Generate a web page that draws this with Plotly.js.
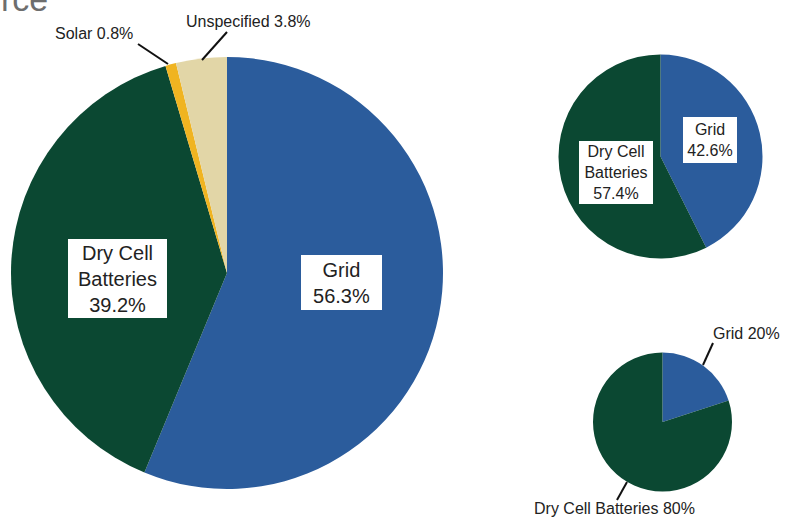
<!DOCTYPE html>
<html>
<head>
<meta charset="utf-8">
<script src="https://cdn.plot.ly/plotly-3.0.1.min.js"></script>
<style>html,body{margin:0;padding:0;background:#fff;}#chart{width:786px;height:523px;}</style>
</head>
<body>
<div id="chart"></div>
<script>
// ---- data ----
const bigLabels = ['Grid', 'Dry Cell Batteries', 'Solar', 'Unspecified'];
const bigValues = [56.3, 39.2, 0.8, 3.8];
const midLabels = ['Grid', 'Dry Cell Batteries'];
const midValues = [42.6, 57.4];
const smallLabels = ['Grid', 'Dry Cell Batteries'];
const smallValues = [20, 80];
const titleFragment = 'rce';

// ---- styling ----
const colorMap = {
  'Grid': '#2b5c9c',
  'Dry Cell Batteries': '#0b4832',
  'Solar': '#f0b421',
  'Unspecified': '#e2d6a7'
};
const W = 786, H = 523;
const px = x => x / W;
const py = y => 1 - y / H;
const FONT = 'Liberation Sans, Arial, sans-serif';
const TXT = '#222';

function pieTrace(labels, values, x0, x1, y0, y1) {
  return {
    type: 'pie', labels: labels, values: values, sort: false,
    direction: 'clockwise', rotation: 0, textinfo: 'none', hoverinfo: 'none',
    marker: {colors: labels.map(l => colorMap[l]), line: {width: 0}},
    domain: {x: [px(x0), px(x1)], y: [py(y1), py(y0)]},
    showlegend: false
  };
}

const data = [
  pieTrace(bigLabels, bigValues, 11, 443, 57, 489),
  pieTrace(midLabels, midValues, 558.5, 762.5, 54.5, 258.5),
  pieTrace(smallLabels, smallValues, 593, 732, 352, 492)
];

const boxText = (l, v) => l.replace(' Batteries', '<br>Batteries') + '<br>' + v + '%';
const lineText = (l, v) => l + ' ' + v + '%';

function box(text, cx, cy, w, h, size) {
  return {xref: 'paper', yref: 'paper', x: px(cx), y: py(cy), xanchor: 'center', yanchor: 'middle',
    text: text, showarrow: false, bgcolor: '#ffffff', borderpad: 0, borderwidth: 0,
    width: w, height: h, align: 'center', valign: 'middle', font: {family: FONT, size: size, color: TXT}};
}
function plain(text, cx, cy, size) {
  return {xref: 'paper', yref: 'paper', x: px(cx), y: py(cy), xanchor: 'center', yanchor: 'middle',
    text: text, showarrow: false, font: {family: FONT, size: size, color: TXT}};
}

const annotations = [
  box(boxText(bigLabels[0], bigValues[0]), 341.5, 282.5, 81, 55, 20),
  box(boxText(bigLabels[1], bigValues[1]), 117.5, 278, 99, 79, 20),
  plain(lineText(bigLabels[2], bigValues[2]), 94, 34, 16),
  plain(lineText(bigLabels[3], bigValues[3]), 248, 22, 16),
  box(boxText(midLabels[0], midValues[0]), 710, 140, 54, 46, 16),
  box(boxText(midLabels[1], midValues[1]), 616, 172.5, 74, 63, 16),
  plain(lineText(smallLabels[0], smallValues[0]), 746, 333, 16),
  plain(lineText(smallLabels[1], smallValues[1]), 614, 508, 16),
  {xref: 'paper', yref: 'paper', x: px(-1), y: py(-1), xanchor: 'left', yanchor: 'middle',
   text: titleFragment, showarrow: false, font: {family: FONT, size: 34, color: '#6e6e6e'}}
];

function seg(x0, y0, x1, y1) {
  return {type: 'line', xref: 'paper', yref: 'paper', x0: px(x0), y0: py(y0), x1: px(x1), y1: py(y1),
    line: {color: '#111', width: 2}};
}
const shapes = [
  seg(138, 44, 168, 64),
  seg(227, 32, 202, 60),
  seg(713, 343, 703, 365),
  seg(627, 482, 617, 500)
];

const layout = {
  width: W, height: H, margin: {l: 0, r: 0, t: 0, b: 0},
  paper_bgcolor: '#ffffff', plot_bgcolor: '#ffffff',
  showlegend: false, annotations: annotations, shapes: shapes,
  font: {family: FONT}
};
Plotly.newPlot('chart', data, layout, {staticPlot: true, displayModeBar: false});
</script>
</body>
</html>
